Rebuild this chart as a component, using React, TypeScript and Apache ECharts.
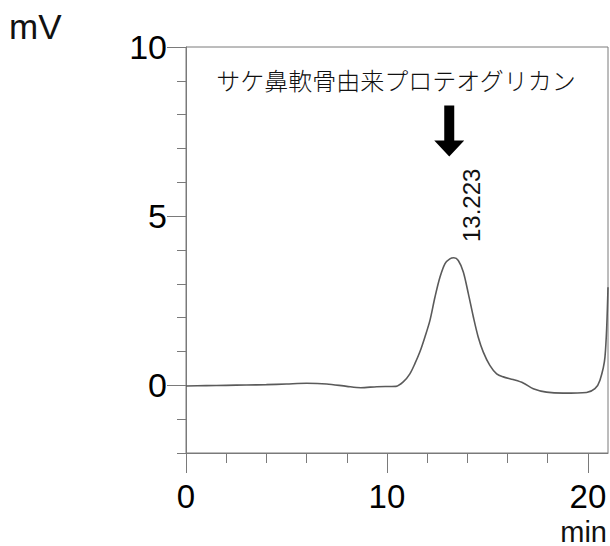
import React, { useEffect, useRef } from "react";
import * as echarts from "echarts";

// Chromatogram trace (time in min, signal in mV)
const times = [0, 1, 2, 3, 4, 5, 6, 7, 8, 8.7, 9.5, 10.45, 10.81, 11.14, 11.39, 11.64, 11.89, 12.14, 12.39, 12.64, 12.89, 13.13, 13.33, 13.55, 13.8, 14.05, 14.3, 14.54, 14.79, 15.12, 15.46, 15.79, 16.28, 16.78, 17.28, 17.94, 18.77, 19.93, 20.35, 20.6, 20.85, 21.0];
const values = [-0.02, -0.01, 0.0, 0.01, 0.02, 0.04, 0.06, 0.04, -0.03, -0.07, -0.04, -0.03, 0.1, 0.34, 0.64, 0.99, 1.43, 1.92, 2.61, 3.2, 3.6, 3.74, 3.77, 3.69, 3.35, 2.71, 2.02, 1.43, 0.99, 0.59, 0.34, 0.25, 0.17, 0.07, -0.1, -0.2, -0.23, -0.21, -0.1, 0.15, 0.84, 2.9];

const xMinorTicks = [0, 2, 4, 6, 8, 10, 12, 14, 16, 18, 20];
const xMajorTicks = [0, 10, 20];
const yMinorTicks = [-2, -1, 0, 1, 2, 3, 4, 5, 6, 7, 8, 9, 10];
const yMajorTicks = [0, 5, 10];

const peakTime = 13.223;
const peakName = "サケ鼻軟骨由来プロテオグリカン";
const arrowPos = [13.1, 7.52];
const peakLabelPos = [14.23, 5.32];

const AXIS_COLOR = "#7a7a7a";
const FONT = "Liberation Sans, Arial, sans-serif";

export default function App() {
  const ref = useRef<HTMLDivElement>(null);
  useEffect(() => {
    document.body.style.margin = "0";
    document.body.style.overflow = "hidden";
    const chart = echarts.init(ref.current!, undefined, { renderer: "svg" });
    const xBase = {
      type: "value",
      min: 0,
      max: 21,
      position: "bottom",
      splitLine: { show: false },
    };
    const yBase = {
      type: "value",
      min: -2,
      max: 10,
      position: "left",
      splitLine: { show: false },
    };
    chart.setOption({
      animation: false,
      grid: {
        left: 186,
        top: 47,
        right: 2,
        bottom: 93,
        show: true,
        borderColor: AXIS_COLOR,
        borderWidth: 1,
        outerBoundsMode: "none",
      },
      xAxis: [
        {
          ...xBase,
          axisLine: { show: true, onZero: false, lineStyle: { color: AXIS_COLOR, width: 1 } },
          axisTick: { show: true, customValues: xMinorTicks, length: 10, lineStyle: { color: AXIS_COLOR } },
          axisLabel: { customValues: xMajorTicks, fontSize: 33, lineHeight: 30, fontFamily: FONT, color: "#000", margin: 28 },
        },
        {
          ...xBase,
          axisLine: { show: false, onZero: false },
          axisTick: { show: true, customValues: xMajorTicks, length: 20, lineStyle: { color: AXIS_COLOR } },
          axisLabel: { show: false },
        },
      ],
      yAxis: [
        {
          ...yBase,
          axisLine: { show: true, onZero: false, lineStyle: { color: AXIS_COLOR, width: 1 } },
          axisTick: { show: true, customValues: yMinorTicks, length: 9, lineStyle: { color: AXIS_COLOR } },
          axisLabel: { customValues: yMajorTicks, fontSize: 34, fontFamily: FONT, color: "#000", margin: 19 },
        },
        {
          ...yBase,
          axisLine: { show: false, onZero: false },
          axisTick: { show: true, customValues: yMajorTicks, length: 19, lineStyle: { color: AXIS_COLOR } },
          axisLabel: { show: false },
        },
      ],
      series: [
        {
          type: "line",
          data: times.map((t, i) => [t, values[i]]),
          showSymbol: false,
          smooth: 0.3,
          clip: true,
          lineStyle: { color: "#5a5a5a", width: 1.6 },
          markPoint: {
            silent: true,
            data: [
              {
                coord: arrowPos,
                symbol: "path://M10,0 L20,0 L20,35 L30,35 L15,51 L0,35 L10,35 Z",
                symbolSize: [30, 51],
                itemStyle: { color: "#000" },
                label: { show: false },
              },
              {
                coord: peakLabelPos,
                symbol: "circle",
                symbolSize: 0,
                label: {
                  show: true,
                  position: "inside",
                  formatter: String(peakTime),
                  rotate: 90,
                  fontSize: 24,
                  fontFamily: FONT,
                  color: "#111",
                },
              },
            ],
          },
        },
      ],
      graphic: [
        {
          type: "text",
          left: 9,
          top: 9,
          style: { text: "mV", fontSize: 35, fontFamily: FONT, fill: "#111" },
        },
        {
          type: "text",
          right: 3,
          top: 517,
          style: { text: "min", fontSize: 29, lineHeight: 28, fontFamily: FONT, fill: "#111" },
        },
        {
          type: "text",
          x: 396,
          y: 79,
          style: {
            text: peakName,
            fontSize: 24,
            fontFamily: "Noto Sans CJK JP, serif",
            fontWeight: 300,
            fill: "#111",
            align: "center",
            verticalAlign: "middle",
          },
        },
      ],
    });
    return () => chart.dispose();
  }, []);
  return <div ref={ref} style={{ position: "absolute", left: 0, top: 0, width: 610, height: 546 }} />;
}
